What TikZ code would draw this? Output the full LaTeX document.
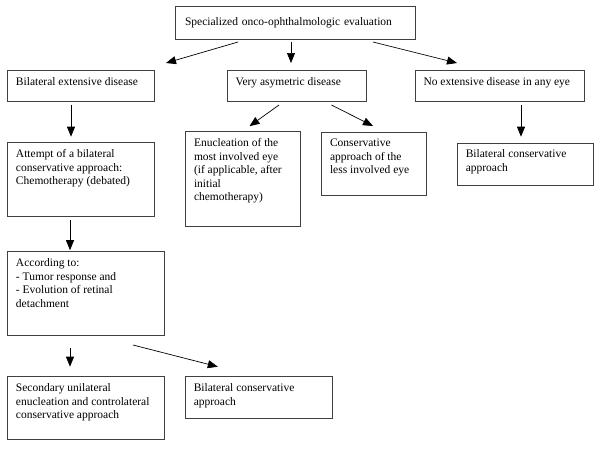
\documentclass[tikz,border=0pt]{standalone}
\usepackage{fontspec}
\setmainfont{Liberation Serif}
\usetikzlibrary{arrows.meta}
\tikzset{flowbox/.style={draw=black!75, line width=0.7pt, anchor=north west,
           inner xsep=8.5pt, inner ysep=5.5pt, outer sep=0pt,
           font=\fontsize{11.5}{13.5}\selectfont},
         flowarrow/.style={-{Triangle[length=10pt,width=8pt]}, line width=0.7pt}}
\newcommand{\boxtext}[3]{\parbox[t][\dimexpr#2-11pt\relax][t]{\dimexpr#1-17pt\relax}{\raggedright\strut#3}}

\begin{document}
\begin{tikzpicture}[x=1pt, y=-1pt]
        \useasboundingbox (0,0) rectangle (600,448);
        % Boxes
        \node[flowbox, minimum width=240pt, minimum height=33pt, text width=220pt, inner xsep=10pt, align=left] (eval) at (175,6) {Specialized onco-ophthalmologic evaluation};
        \node[flowbox] (bilat) at (7.5,70.5) {\boxtext{146.5pt}{30.5pt}{Bilateral extensive disease}};
        \node[flowbox] (asym) at (227,70.5) {\boxtext{139pt}{30.5pt}{Very asymetric disease}};
        \node[flowbox] (noext) at (415,70.5) {\boxtext{169pt}{30.5pt}{No extensive disease in any eye}};
        \node[flowbox] (attempt) at (7.5,142.7) {\boxtext{146.5pt}{73.3pt}{Attempt of a bilateral\\ conservative approach:\\ Chemotherapy (debated)}};
        \node[flowbox] (enuc) at (185.5,131.7) {\boxtext{115pt}{95pt}{Enucleation of the\\ most involved eye\\ (if applicable, after\\ initial\\ chemotherapy)}};
        \node[flowbox] (consv) at (321.5,132) {\boxtext{105pt}{63.5pt}{Conservative\\ approach of the\\ less involved eye}};
        \node[flowbox] (rbil) at (457.3,143) {\boxtext{136pt}{42pt}{Bilateral conservative\\ approach}};
        \node[flowbox] (accord) at (7.5,251.7) {\boxtext{157pt}{83.3pt}{According to:\\ - Tumor response and\\ - Evolution of retinal\\ detachment}};
        \node[flowbox] (second) at (7.5,376.7) {\boxtext{157pt}{62.6pt}{Secondary unilateral\\ enucleation and controlateral\\ conservative approach}};
        \node[flowbox] (bbil) at (185.3,376.7) {\boxtext{147pt}{41.6pt}{Bilateral conservative\\ approach}};

        % Arrows
        \draw[flowarrow] ([shift={(63,3)}]eval.south west) -- ([shift={(12,-7.5)}]bilat.north east);
        \draw[flowarrow] ([shift={(116,3)}]eval.south west) -- ([shift={(64,-7.5)}]asym.north west);
        \draw[flowarrow] ([shift={(198,3)}]eval.south west) -- ([shift={(42,-7.5)}]noext.north west);
        \draw[flowarrow] ([shift={(63.5,4)}]bilat.south west) -- ([shift={(63.5,-6)}]attempt.north west);
        \draw[flowarrow] ([shift={(52,4)}]asym.south west) -- ([shift={(64,-5.5)}]enuc.north west);
        \draw[flowarrow] ([shift={(104.5,4)}]asym.south west) -- ([shift={(51.5,-6)}]consv.north west);
        \draw[flowarrow] ([shift={(106,4)}]noext.south west) -- ([shift={(63.7,-6.3)}]rbil.north west);
        \draw[flowarrow] ([shift={(62.5,4)}]attempt.south west) -- ([shift={(62.5,-1.5)}]accord.north west);
        \draw[flowarrow] ([shift={(62.5,13)}]accord.south west) -- ([shift={(62.5,-10)}]second.north west);
        \draw[flowarrow] ([shift={(125.5,10)}]accord.south west) -- ([shift={(32.5,-10)}]bbil.north west);
\end{tikzpicture}
\end{document}
